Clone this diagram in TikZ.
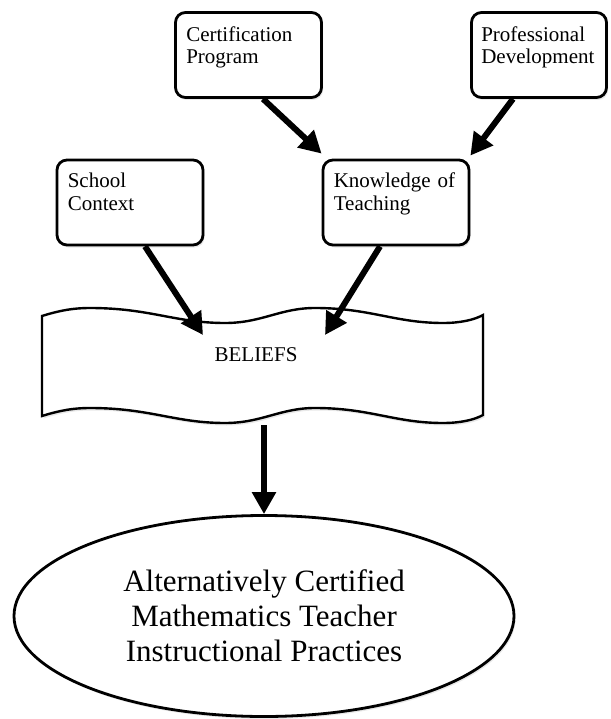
\documentclass[tikz,border=0pt]{standalone}
\usepackage{fontspec}
\setmainfont{Liberation Serif}
\usetikzlibrary{arrows.meta,shapes.geometric,shadows,calc}
\begin{document}
\begin{tikzpicture}[x=1pt,y=-1pt,
  shadowed/.style={drop shadow={opacity=0.18, shadow xshift=1.5pt, shadow yshift=-2.5pt}},
  box/.style={draw, line width=2.8pt, rounded corners=10pt, fill=white, inner sep=0pt, minimum height=85pt, shadowed},
  lbl/.style={anchor=base west, align=left, text width=132pt, inner sep=0pt, font=\fontsize{21}{22.5}\selectfont},
  arr/.style={line width=6pt, -{Triangle[length=22pt,width=23pt]}},
  banner/.style={draw, line width=2.4pt, fill=white, line join=miter, shadowed},
  ell/.style={draw, ellipse, line width=2.8pt, fill=white, inner sep=0pt, minimum width=500pt, minimum height=201pt, align=center, font=\fontsize{31}{35}\selectfont, shadowed}
]
\useasboundingbox (0,0) rectangle (610,719);

% boxes
\node[box, minimum width=146pt] (cert) at (248.5,55) {};
\node[lbl] (certT) at ($(cert.north west)+(12,30)$) {Certification\\Program};

\node[box, minimum width=135pt] (prof) at (539,55) {};
\node[lbl] (profT) at ($(prof.north west)+(11,30)$) {Professional\\Development};

\node[box, minimum width=146pt] (school) at (130,202.5) {};
\node[lbl] (schoolT) at ($(school.north west)+(12,29)$) {School\\Context};

\node[box, minimum width=146pt] (kot) at (396,202.5) {};
\node[lbl] (kotT) at ($(kot.north west)+(12,29)$) {Knowledge of\\Teaching};

% banner
\draw[banner] (42,316) .. controls (58,311) and (72,308) .. (90,308)
  .. controls (150,308) and (175,323) .. (225,323)
  .. controls (262,323) and (280,308) .. (315,308)
  .. controls (370,308) and (395,323) .. (443,323)
  .. controls (460,323) and (474,320) .. (483,315)
  -- (483,415)
  .. controls (474,420) and (460,423) .. (443,423)
  .. controls (395,423) and (370,408) .. (315,408)
  .. controls (280,408) and (262,423) .. (225,423)
  .. controls (175,423) and (150,408) .. (90,408)
  .. controls (72,408) and (58,411) .. (42,416) -- cycle;
\node[anchor=base, inner sep=0pt, font=\fontsize{21}{22}\selectfont] (bel) at (256,361) {BELIEFS};

% ellipse
\node[ell] (acm) at (264,616) {Alternatively Certified\\Mathematics Teacher\\Instructional Practices};

% arrow end points
\coordinate (t1) at (203,335);
\coordinate (t2) at (325,335);
\coordinate (bout) at (264,425);

% arrows
\draw[arr] ([xshift=14.5pt]cert.south) -- ([yshift=5pt]kot.north west);
\draw[arr] ([xshift=-26pt]prof.south) -- ([yshift=3pt]kot.north east);
\draw[arr] ([xshift=15pt]school.south) -- (t1);
\draw[arr] ([xshift=-16pt]kot.south) -- (t2);
\draw[arr] (bout) -- (acm.north);
\end{tikzpicture}
\end{document}
